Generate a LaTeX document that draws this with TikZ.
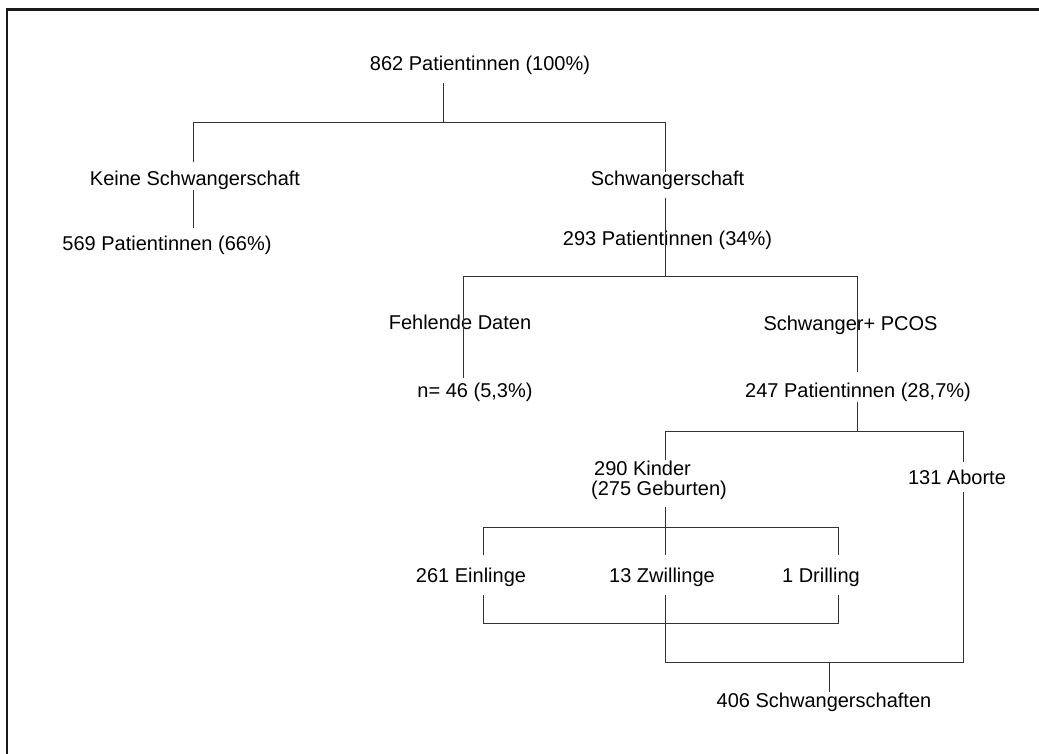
\documentclass[tikz,border=0pt]{standalone}
\usepackage{fontspec}
\setmainfont{Liberation Sans}
\begin{document}
\begin{tikzpicture}[x=1pt,y=-1pt,
  lbl/.style={anchor=base, inner sep=0pt, font=\fontsize{20}{24}\selectfont},
  conn/.style={draw=black!80, line width=1pt}]
\useasboundingbox (0,0) rectangle (1039,753);
\begin{scope}
  \clip (0,0) rectangle (1039,753);
  \draw[line width=2.5pt, black!90] (7,9.5) rectangle (1070,790);
\end{scope}
% text nodes
\node[lbl] (n862) at (480,70) {862 Patientinnen (100\%)};
\node[lbl] (keine) at (195,185) {Keine Schwangerschaft};
\node[lbl] (p569) at (167,250) {569 Patientinnen (66\%)};
\node[lbl] (schw) at (667.5,185) {Schwangerschaft};
\node[lbl] (p293) at (667.5,245) {293 Patientinnen (34\%)};
\node[lbl] (fehl) at (460,329) {Fehlende Daten};
\node[lbl] (n46) at (475,397) {n= 46 (5,3\%)};
\node[lbl] (pcos) at (850.5,330) {Schwanger+ PCOS};
\node[lbl] (p247) at (858,397) {247 Patientinnen (28,7\%)};
\node[lbl] (kind) at (642.5,475) {290 Kinder};
\node[lbl] (geb) at (659,495) {(275 Geburten)};
\node[lbl] (abort) at (957,484) {131 Aborte};
\node[lbl] (ein) at (471,582) {261 Einlinge};
\node[lbl] (zwi) at (662,582) {13 Zwillinge};
\node[lbl] (dri) at (821,582) {1 Drilling};
\node[lbl] (s406) at (824,707) {406 Schwangerschaften};
% connector end points and junctions
\coordinate (c862) at (443,83);   \coordinate (j1) at (443,122);
\coordinate (j1L) at (193,122);   \coordinate (j1R) at (665,122);
\coordinate (cKeineT) at (193,162); \coordinate (cKeineB) at (193,190);
\coordinate (c569) at (193,228);
\coordinate (cSchwT) at (665,172); \coordinate (cSchwB) at (665,198);
\coordinate (j2) at (665,276);
\coordinate (j2L) at (463,276);   \coordinate (j2R) at (857,276);
\coordinate (c46) at (463,378);
\coordinate (c247T) at (857,372); \coordinate (c247B) at (857,402);
\coordinate (j3) at (857,431);
\coordinate (j3L) at (665,431);   \coordinate (j3R) at (963,431);
\coordinate (cKindT) at (665,460); \coordinate (cKindB) at (665,507);
\coordinate (cAbT) at (963,462);  \coordinate (cAbB) at (963,492);
\coordinate (cZwiT) at (665,555); \coordinate (cZwiB) at (665,595);
\coordinate (j4L) at (483,527);   \coordinate (j4R) at (838,527);
\coordinate (cEinT) at (483,555); \coordinate (cDriT) at (838,555);
\coordinate (cEinB) at (483,595); \coordinate (cDriB) at (838,595);
\coordinate (j5L) at (483,623);   \coordinate (j5R) at (838,623);
\coordinate (j6L) at (665,662);   \coordinate (j6R) at (963,662);
\coordinate (j6) at (829,662);    \coordinate (c406) at (829,692);
% connectors
\draw[conn] (c862) -- (j1);
\draw[conn] (cKeineT) -- (j1L) -- (j1R) -- (cSchwT);
\draw[conn] (cKeineB) -- (c569);
\draw[conn] (cSchwB) -- (j2);
\draw[conn] (c46) -- (j2L) -- (j2R) -- (c247T);
\draw[conn] (c247B) -- (j3);
\draw[conn] (cKindT) -- (j3L) -- (j3R) -- (cAbT);
\draw[conn] (cKindB) -- (cZwiT);
\draw[conn] (cEinT) -- (j4L) -- (j4R) -- (cDriT);
\draw[conn] (cEinB) -- (j5L) -- (j5R) -- (cDriB);
\draw[conn] (cZwiB) -- (j6L) -- (j6R) -- (cAbB);
\draw[conn] (j6) -- (c406);
\end{tikzpicture}
\end{document}
